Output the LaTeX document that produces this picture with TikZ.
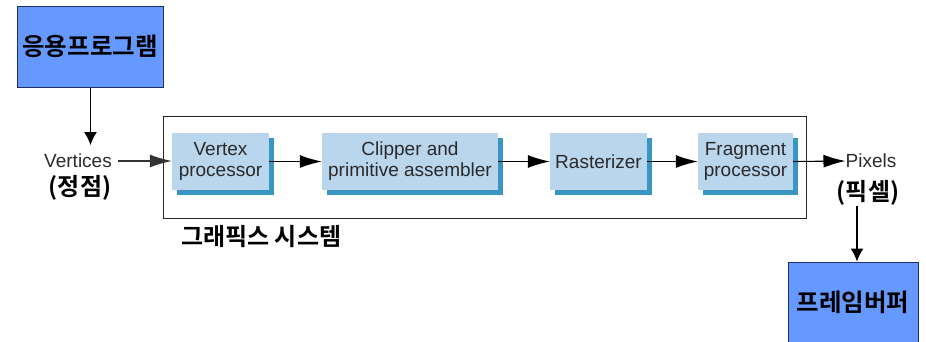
\documentclass[tikz,border=0pt]{standalone}
\usepackage{fontspec}
\setmainfont{Liberation Sans}
\newfontfamily\kr{Noto Sans CJK KR}[BoldFont={Noto Sans CJK KR Bold}]
\usetikzlibrary{arrows.meta,shadows}
\definecolor{appblue}{HTML}{6699FF}
\definecolor{appborder}{HTML}{1F2F5F}
\definecolor{lightbox}{HTML}{BAD6EC}
\definecolor{shadowblue}{HTML}{3A95C4}
\definecolor{txtgray}{HTML}{2A2A2A}
\tikzset{
  bigbox/.style={draw=appborder, line width=1pt, fill=appblue, inner sep=0pt,
    font=\kr\bfseries\fontsize{24.5}{28}\selectfont},
  procbox/.style={fill=lightbox, inner sep=0pt, minimum height=57pt, align=center,
    text=txtgray, font=\fontsize{19}{21}\selectfont,
    general shadow={fill=shadowblue, shadow xshift=5pt, shadow yshift=-5pt}},
  krlabel/.style={font=\kr\bfseries\fontsize{24}{28}\selectfont, inner sep=0pt},
  enlabel/.style={font=\fontsize{19}{21}\selectfont, text=txtgray, inner sep=0pt},
  pipe/.style={-{Latex[length=22pt,width=13pt]}, line width=1.1pt},
  vert/.style={-{Latex[length=13pt,width=13pt]}, line width=1.2pt},
}
\begin{document}
\begin{tikzpicture}[x=1pt,y=-1pt]
\useasboundingbox (0,0) rectangle (926,341);
\node[draw=black!85, line width=1pt, minimum width=643pt, minimum height=102pt, inner sep=0pt] (sys) at (484.5,167) {};
\node[bigbox, minimum width=146pt, minimum height=81pt] (app) at (90,46.5) {응용프로그램};
\node[bigbox, minimum width=130pt, minimum height=80pt] (fb) at (853,302) {프레임버퍼};
\node[procbox, minimum width=97pt] (vp) at (220.5,161.5) {Vertex\\processor};
\node[procbox, minimum width=176pt] (clip) at (410,161.5) {Clipper and\\primitive assembler};
\node[procbox, minimum width=97pt] (rast) at (598.5,161.5) {Rasterizer};
\node[procbox, minimum width=95pt] (frag) at (745.5,161.5) {Fragment\\processor};
\node[enlabel] (vert) at (78,161) {Vertices};
\node[krlabel] (jeongjeom) at (80,188) {(정점)};
\node[enlabel] (pix) at (871,161) {Pixels};
\node[krlabel] (pixel) at (868,193) {(픽셀)};
\node[krlabel, anchor=west] (gs) at (181,237) {그래픽스 시스템};
\coordinate (vin) at (90.5,145);
\coordinate (pout) at (857,206);
\draw[vert] (app.south -| vin) -- (vin);
\draw[pipe, draw=black!80] (vert.east) ++(6,0) coordinate (vs) -- (vs -| vp.west);
\draw[pipe] (vp.east) -- (clip.west);
\draw[pipe] (clip.east) -- (rast.west);
\draw[pipe] (rast.east) -- (frag.west);
\draw[pipe] (frag.east) -- (pix.west);
\draw[vert] (pout) -- (pout |- fb.north);
\end{tikzpicture}
\end{document}
